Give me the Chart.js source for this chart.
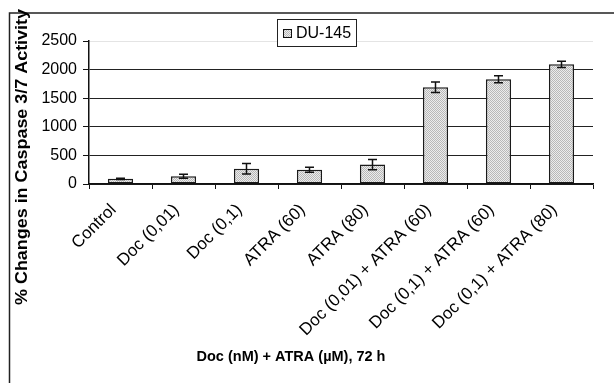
<!DOCTYPE html>
<html>
<head>
<meta charset="utf-8">
<script src="https://cdn.jsdelivr.net/npm/chart.js@4.4.0/dist/chart.umd.min.js"></script>
<style>
  html, body { margin: 0; padding: 0; background: #fff; }
  #wrap { width: 614px; height: 383px; position: relative; }
</style>
</head>
<body>
<div id="wrap"><canvas id="caspaseChart"></canvas></div>
<script>
// Data
const categories = ['Control', 'Doc (0,01)', 'Doc (0,1)', 'ATRA (60)', 'ATRA (80)',
    'Doc (0,01) + ATRA (60)', 'Doc (0,1) + ATRA (60)', 'Doc (0,1) + ATRA (80)'];
const activity = [90, 135, 268, 248, 340, 1690, 1832, 2092];
const activityErr = [10, 35, 92, 44, 90, 92, 62, 55];
const yTicks = [0, 500, 1000, 1500, 2000, 2500];
const seriesName = 'DU-145';
const xTitle = 'Doc (nM) + ATRA (\u00b5M), 72 h';
const yTitle = '% Changes in Caspase 3/7 Activity';

const FONT = 'Arial, "Liberation Sans", sans-serif';

/**
 * Small dotted grey fill, like the old spreadsheet bar pattern.
 */
function makeDotPattern(ctx) {
    const c = document.createElement('canvas');
    c.width = 2;
    c.height = 2;
    const p = c.getContext('2d');
    p.fillStyle = '#ececec';
    p.fillRect(0, 0, 2, 2);
    p.fillStyle = '#b8b8b8';
    p.fillRect(0, 0, 1, 1);
    p.fillRect(1, 1, 1, 1);
    return ctx.createPattern(c, 'repeat');
}

// error bars, frame, titles and legend box
const decorPlugin = {
    id: 'decor',
    afterDatasetsDraw(chart) {
        const { ctx, scales: { y } } = chart;
        const bars = chart.getDatasetMeta(0).data;
        ctx.save();
        ctx.strokeStyle = '#111';
        ctx.lineWidth = 1.5;
        bars.forEach((bar, i) => {
            const top = y.getPixelForValue(activity[i] + activityErr[i]);
            const bot = y.getPixelForValue(activity[i] - activityErr[i]);
            const half = 4.5;
            ctx.beginPath();
            ctx.moveTo(bar.x, top);
            ctx.lineTo(bar.x, bot);
            ctx.moveTo(bar.x - half, top);
            ctx.lineTo(bar.x + half, top);
            ctx.moveTo(bar.x - half, bot);
            ctx.lineTo(bar.x + half, bot);
            ctx.stroke();
        });
        ctx.restore();
    },
    afterDraw(chart) {
        const { ctx } = chart;
        ctx.save();

        // outer frame (cropped on right and bottom)
        ctx.strokeStyle = '#222';
        ctx.lineWidth = 1.5;
        ctx.beginPath();
        ctx.moveTo(9.5, 383);
        ctx.lineTo(9.5, 13);
        ctx.lineTo(614, 13);
        ctx.stroke();

        // legend
        ctx.fillStyle = '#fff';
        ctx.fillRect(277, 19, 80, 28);
        ctx.strokeStyle = '#222';
        ctx.lineWidth = 1;
        ctx.strokeRect(277.5, 19.5, 79, 27);
        ctx.fillStyle = makeDotPattern(ctx);
        ctx.fillRect(283, 29, 9, 9);
        ctx.strokeStyle = '#111';
        ctx.strokeRect(283.5, 29.5, 8, 8);
        ctx.fillStyle = '#000';
        ctx.font = '16px ' + FONT;
        ctx.textBaseline = 'middle';
        ctx.textAlign = 'left';
        ctx.fillText(seriesName, 296, 34);

        // axis titles
        ctx.font = 'bold 14.5px ' + FONT;
        ctx.textAlign = 'center';
        ctx.fillText(xTitle, 291, 357);

        ctx.translate(23, 157);
        ctx.rotate(-Math.PI / 2);
        ctx.font = 'bold 16px ' + FONT;
        const w = ctx.measureText(yTitle).width;
        ctx.scale(296 / w, 1);
        ctx.fillText(yTitle, 0, 0);
        ctx.restore();
    }
};

const ctx = document.getElementById('caspaseChart').getContext('2d');

new Chart(ctx, {
    type: 'bar',
    data: {
        labels: categories,
        datasets: [{
            label: seriesName,
            data: activity,
            backgroundColor: makeDotPattern(ctx),
            borderColor: '#1a1a1a',
            borderWidth: 1.5,
            borderSkipped: false,
            barPercentage: 0.4,
            categoryPercentage: 1.0
        }]
    },
    options: {
        responsive: true,
        maintainAspectRatio: false,
        animation: false,
        devicePixelRatio: 1,
        layout: { padding: { top: 41, right: 21, left: 0, bottom: 0 } },
        plugins: {
            legend: { display: false },
            tooltip: { enabled: false }
        },
        scales: {
            x: {
                grid: {
                    offset: true,
                    drawOnChartArea: false,
                    drawTicks: true,
                    tickLength: 5,
                    color: '#111',
                    lineWidth: 1
                },
                border: { color: '#111', width: 1.5 },
                ticks: {
                    autoSkip: false,
                    maxRotation: 45,
                    minRotation: 45,
                    padding: 11,
                    labelOffset: -7,
                    color: '#000',
                    font: { family: FONT, size: 17 }
                },
                afterFit: (scale) => { scale.height = 199; }
            },
            y: {
                min: 0,
                max: 2500,
                afterBuildTicks: (scale) => {
                    scale.ticks = yTicks.map(v => ({ value: v }));
                },
                grid: {
                    color: (c) => c.tick && c.tick.value === 2500 ? '#e4e4e4' : '#222',
                    lineWidth: 1,
                    tickLength: 6,
                    tickColor: '#111'
                },
                border: { color: '#111', width: 1.5 },
                ticks: {
                    padding: 6,
                    color: '#000',
                    font: { family: FONT, size: 16 },
                    callback: (v) => String(v)
                },
                afterFit: (scale) => { scale.width = 89; }
            }
        }
    },
    plugins: [decorPlugin]
});
</script>
</body>
</html>
